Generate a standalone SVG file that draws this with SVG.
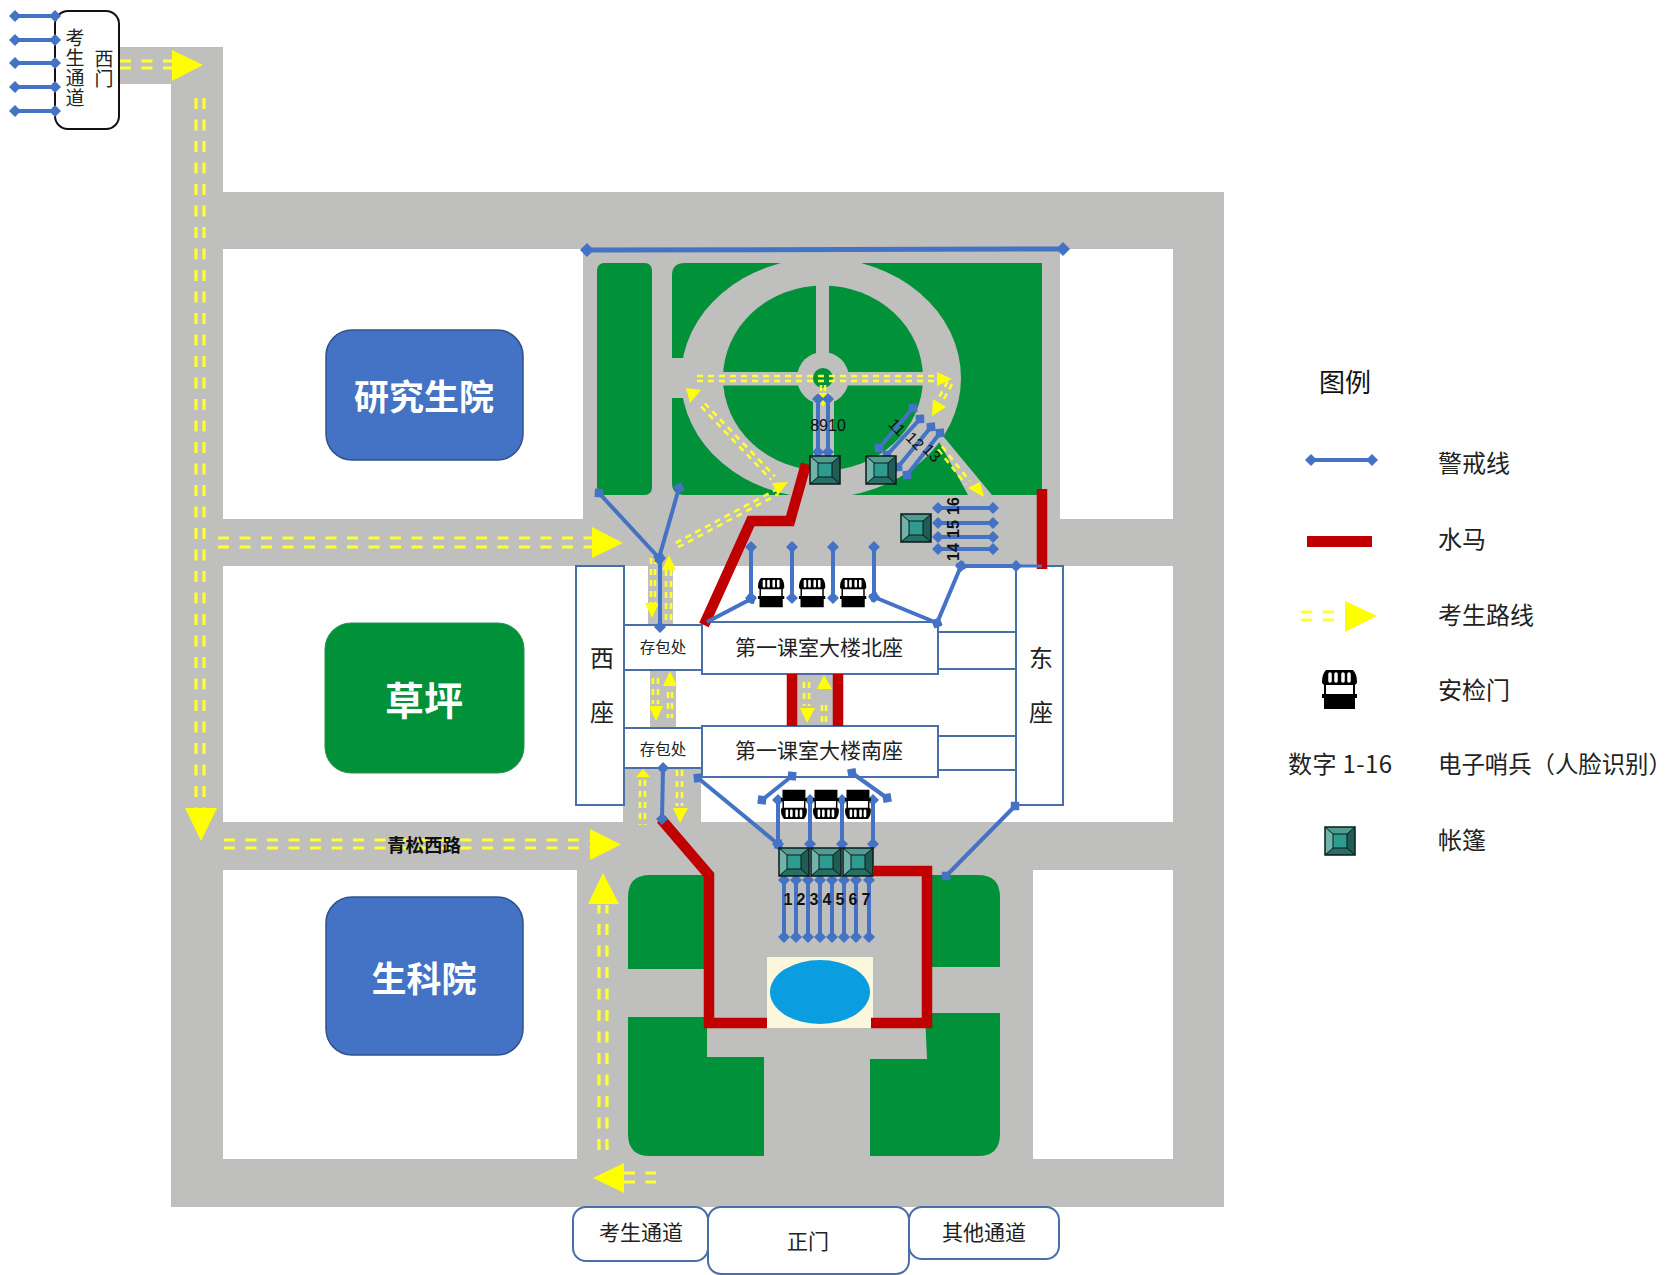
<svg xmlns="http://www.w3.org/2000/svg" xmlns:xlink="http://www.w3.org/1999/xlink" width="1674" height="1275" viewBox="0 0 1674 1275">
<style>
text{font-family:"Noto Sans CJK SC","Liberation Sans",sans-serif;fill:#222;dominant-baseline:central}
.c{text-anchor:middle}
.m{font-size:21px}
.leg{font-size:24px}
.big{font-size:35px;font-weight:700;fill:#fff;text-anchor:middle}
.num{font-family:"Liberation Sans",sans-serif;font-size:16px;font-weight:700;fill:#111;text-anchor:middle}
.vert{writing-mode:vertical-rl;font-size:19px;letter-spacing:1px;text-anchor:middle}
.road{fill:#bfbfbd}
.w{fill:#fff}
.gr{fill:#009139}
.bl{fill:none;stroke:#4472c4;stroke-width:4;marker-start:url(#dia);marker-end:url(#dia)}
.rd{fill:none;stroke:#c00000;stroke-width:10.5;stroke-linejoin:miter}
.d{fill:none;stroke:#ffff33;stroke-width:3.2;stroke-dasharray:11 10.5}
.e{fill:none;stroke:#ffff33;stroke-width:2.6;stroke-dasharray:6 5}
.t{fill:#ffff00}
.b{fill:#fff;stroke:#4a6fa8;stroke-width:2}
</style>
<defs>
<marker id="dia" markerUnits="userSpaceOnUse" markerWidth="12" markerHeight="12" refX="6" refY="6" orient="auto"><path d="M0 6L6 0L12 6L6 12Z" fill="#4472c4"/></marker>
<marker id="diaL" markerUnits="userSpaceOnUse" markerWidth="14" markerHeight="14" refX="7" refY="7" orient="auto"><path d="M0 7L7 0L14 7L7 14Z" fill="#4472c4"/></marker>
<g id="tent">
<rect x="0" y="0" width="30" height="28" fill="#2a7a70"/>
<path d="M0 0H30L22 7H8Z" fill="#4f9c93"/>
<path d="M0 0L8 7V21L0 28Z" fill="#71b3ab"/>
<path d="M30 0L22 7V21L30 28Z" fill="#1f5d56"/>
<path d="M0 28L8 21H22L30 28Z" fill="#276e65"/>
<rect x="8" y="7" width="14" height="14" fill="#2f9a8e"/>
<rect x="0" y="0" width="30" height="28" fill="none" stroke="#0b1a18" stroke-width="1.5"/>
<path d="M0 0L8 7H22L30 0M0 28L8 21H22L30 28M8 7V21M22 7V21" fill="none" stroke="#0b1a18" stroke-width="1"/>
</g>
<g id="gate">
<path d="M2 25H33V39H2Z" fill="#000"/>
<rect x="0" y="24" width="35" height="4" fill="#000"/>
<rect x="3" y="12" width="29" height="13" fill="#fff" stroke="#000" stroke-width="2"/>
<path d="M4 0H31Q35 4 35 12Q35 15 31 15H4Q0 15 0 12Q0 4 4 0Z" fill="#000"/>
<path d="M8 4V11M14 4V11M21 4V11M27 4V11" stroke="#fff" stroke-width="3.500" stroke-linecap="round"/>
</g>
</defs>
<rect width="1674" height="1275" fill="#fff"/>
<g id="roads">
<rect class="road" x="171" y="192" width="1053" height="1015"/>
<rect class="road" x="171" y="47" width="52" height="145"/>
<rect class="road" x="120" y="47" width="103" height="37"/>
<rect class="w" x="223" y="249" width="360" height="270"/>
<rect class="w" x="1060" y="249" width="113" height="270"/>
<rect class="w" x="223" y="566" width="950" height="256"/>
<rect class="w" x="223" y="870" width="354" height="289"/>
<rect class="w" x="1033" y="870" width="140" height="289"/>
<rect class="road" x="623" y="768" width="78" height="54"/>
<rect class="road" x="648" y="566" width="25" height="59"/>
<rect class="road" x="650" y="670" width="26" height="57"/>
<rect class="road" x="797" y="674" width="37" height="52"/>
</g>
<g id="park">
<rect class="gr" x="597" y="263" width="55" height="232" rx="7"/>
<path class="gr" d="M685 263H1042V495H685Q672 495 672 483V275Q672 263 685 263Z"/>
<ellipse class="road" cx="821" cy="378" rx="140" ry="120"/>
<ellipse class="gr" cx="823" cy="378" rx="100" ry="92.500"/>
<rect class="road" x="816" y="280" width="13" height="80"/>
<rect class="road" x="722" y="372" width="202" height="13.500"/>
<rect class="road" x="813" y="378" width="21" height="90"/>
<rect class="road" x="672" y="358" width="20" height="40"/>
<path class="road" d="M938 440L943 436L992 495H968Z"/>
<circle class="road" cx="823" cy="378" r="26"/>
<circle class="gr" cx="823" cy="378" r="10"/>
</g>
<g id="garden">
<path class="gr" d="M650 875H709V969H628V897Q628 875 650 875Z"/>
<path class="gr" d="M927 875H978Q1000 875 1000 897V967H927Z"/>
<path class="gr" d="M628 1017H707V1057H764V1156H650Q628 1156 628 1134Z"/>
<path class="gr" d="M925 1013H1000V1134Q1000 1156 978 1156H870V1059H927Z"/>
<rect x="767" y="957" width="106" height="71" fill="#fbf7dc"/>
<ellipse cx="820" cy="992" rx="50" ry="32" fill="#0a9de0"/>
</g>
<g id="west-seat"><rect class="b" x="576" y="566" width="48" height="239"/><text class="c" x="602" y="656" style="font-size:24px">西</text><text class="c" x="602" y="710" style="font-size:24px">座</text></g>
<g id="east-seat"><rect class="b" x="1016" y="566" width="47" height="239"/><text class="c" x="1041" y="656" style="font-size:24px">东</text><text class="c" x="1041" y="710" style="font-size:24px">座</text></g>
<g id="corridor-north"><rect class="b" x="938" y="632" width="78" height="37"/></g>
<g id="corridor-south"><rect class="b" x="938" y="736" width="78" height="34"/></g>
<g id="storage-north"><rect class="b" x="624" y="625" width="78" height="45"/><text class="c" x="663" y="645.500" style="font-size:15.500px">存包处</text></g>
<g id="storage-south"><rect class="b" x="624" y="728" width="78" height="40"/><text class="c" x="663" y="747.500" style="font-size:15.500px">存包处</text></g>
<g id="north-block"><rect class="b" x="702" y="622" width="236" height="52"/><text class="c m" x="819" y="646">第一课室大楼北座</text></g>
<g id="south-block"><rect class="b" x="702" y="726" width="236" height="51"/><text class="c m" x="819" y="749">第一课室大楼南座</text></g>
<g id="graduate"><rect x="326" y="330" width="197" height="130" rx="26" fill="#4472c4" stroke="#2f528f" stroke-width="1.500"/><text class="big" x="424" y="394">研究生院</text></g>
<g id="lawn"><rect x="325" y="623" width="199" height="150" rx="26" fill="#009139" stroke="#2f8f55" stroke-width="1"/><text class="big" x="424" y="698" style="font-size:39px">草坪</text></g>
<g id="biosci"><rect x="326" y="897" width="197" height="158" rx="26" fill="#4472c4" stroke="#2f528f" stroke-width="1.500"/><text class="big" x="424" y="976">生科院</text></g>
<g id="west-gate"><rect x="55" y="11" width="64" height="118" rx="13" fill="#fff" stroke="#111" stroke-width="2"/>
<text class="vert" x="75" y="68">考生通道</text>
<text class="vert" x="104" y="69">西门</text></g>
<g id="gate-exam"><rect class="b" x="573" y="1207" width="135" height="54" rx="13"/><text class="c m" x="641" y="1231">考生通道</text></g>
<g id="gate-main"><rect class="b" x="708" y="1207" width="201" height="67" rx="13"/><text class="c m" x="808" y="1240">正门</text></g>
<g id="gate-other"><rect class="b" x="909" y="1207" width="150" height="52" rx="13"/><text class="c m" x="984" y="1231">其他通道</text></g>
<g id="connectors">
<g id="barriers">
<path class="rd" d="M704 625L751 521H790L806 464"/>
<path class="rd" d="M1042 489V569"/>
<path class="rd" d="M792 674V726M838 674V726"/>
<path class="rd" d="M661 819L709 875V1023H767"/>
<path class="rd" d="M874 871H927V1023H871"/>
</g>
<g id="routes">
<path class="d" d="M120 61H172M120 68H172"/>
<path class="d" d="M196 98V808M204 98V808"/>
<path class="d" d="M218 538H592M218 547H592"/>
<path class="d" d="M224 840H590M224 848H590"/>
<path class="d" d="M599 1150V905M607 1150V905"/>
<path class="d" d="M624 1173H656M624 1182H656"/>
<path class="e" d="M697 376H937M697 381H937"/>
<path class="e" d="M952 384L944 399M947.500 381.600L939.500 396.600"/>
<path class="e" d="M821 385V393M825 385V393"/>
<path class="e" d="M704.800 403.300L774.800 476.300M701.200 406.700L771.200 479.700"/>
<path class="e" d="M678.200 547.200L778.200 494.200M675.800 542.800L775.800 489.800"/>
<path class="e" d="M942 446.400L970 481.400M938 449.600L966 484.600"/>
<path class="e" d="M651 558V603M655 558V603M666 570V622M671 570V622"/>
<path class="e" d="M653 678V704M658 678V704M668 692V718M672 692V718"/>
<path class="e" d="M640 780V825M645 780V825M677 770V806M682 770V806"/>
<path class="e" d="M804 682V706M809 682V706M822 705V722M826 705V722"/>
<path class="t" d="M172 50L203 65L172 81Z"/>
<path class="t" d="M185 808H217L201 841Z"/>
<path class="t" d="M592 527L623 543L592 558Z"/>
<path class="t" d="M590 829L621 844.500L590 860Z"/>
<path class="t" d="M603 873L619 904H588Z"/>
<path class="t" d="M593 1178L624 1163V1193Z"/>
<path class="t" d="M937 372L952 379L937 386Z"/>
<path class="t" d="M933 399L946 407L932 416Z"/>
<path class="t" d="M816 393H831L823 407Z"/>
<path class="t" d="M686 388L701 390L690 403Z"/>
<path class="t" d="M788 482L772 483L778 495Z"/>
<path class="t" d="M968 488L980 482L984 497Z"/>
<path class="t" d="M645 603H659L652 618Z"/>
<path class="t" d="M669 555L676 570H662Z"/>
<path class="t" d="M670 671L677 686H663Z"/>
<path class="t" d="M649 706H663L656 721Z"/>
<path class="t" d="M643 769L650 777H636Z"/>
<path class="t" d="M673 808H688L680 823Z"/>
<path class="t" d="M824 675L832 689H817Z"/>
<path class="t" d="M800 708H815L807 723Z"/>
</g>
<g id="cordons">
<path class="bl" d="M15 16H55"/><path class="bl" d="M15 40H55"/><path class="bl" d="M15 63H55"/><path class="bl" d="M15 87H55"/><path class="bl" d="M15 111H55"/>
<path class="bl" d="M587 250L1063 249" style="stroke-width:5;marker-start:url(#diaL);marker-end:url(#diaL)"/>
<path class="bl" d="M599 493L659 558"/>
<path class="bl" d="M679 488L659 558"/>
<path class="bl" d="M660 558V627"/>
<path class="bl" d="M751 547V598"/><path class="bl" d="M792 547V598"/><path class="bl" d="M833 547V598"/><path class="bl" d="M874 547V597"/>
<path class="bl" d="M707 622L751 599" style="marker-start:none"/>
<path class="bl" d="M874 597L937 623"/>
<path class="bl" d="M937 623L961 566"/>
<path class="bl" d="M961 566H1016"/>
<path d="M1016 566H1042" fill="none" stroke="#4472c4" stroke-width="3"/>
<path class="bl" d="M938 508H993"/><path class="bl" d="M938 523H993"/><path class="bl" d="M938 537H993"/><path class="bl" d="M938 549H993"/>
<path class="bl" d="M698 778L778 844"/>
<path class="bl" d="M762 800L792 776"/>
<path class="bl" d="M852 773L887 798"/>
<path class="bl" d="M778 800V844"/><path class="bl" d="M810 800V844"/><path class="bl" d="M842 800V844"/><path class="bl" d="M873 800V844"/>
<path class="bl" d="M1015 806L946 876"/>
<path class="bl" d="M663 768L662 819"/>
<path class="bl" d="M784 880V937"/><path class="bl" d="M796 880V937"/><path class="bl" d="M808 880V937"/><path class="bl" d="M820 880V937"/><path class="bl" d="M832 880V937"/><path class="bl" d="M844 880V937"/><path class="bl" d="M856 880V937"/><path class="bl" d="M869 880V937"/>
<path class="bl" d="M818 399V452"/><path class="bl" d="M828 399V452"/>
<path class="bl" d="M913 408L879 448"/><path class="bl" d="M920 419L887 455"/><path class="bl" d="M931 427L898 467"/><path class="bl" d="M940 433L907 475"/>
</g>
</g>
<g id="tents">
<use xlink:href="#tent" href="#tent" x="810" y="456"/>
<use xlink:href="#tent" href="#tent" x="866" y="456"/>
<use xlink:href="#tent" href="#tent" x="901" y="514"/>
<use xlink:href="#tent" href="#tent" x="779" y="848"/>
<use xlink:href="#tent" href="#tent" x="811" y="848"/>
<use xlink:href="#tent" href="#tent" x="843" y="848"/>
</g>
<g id="gates">
<use xlink:href="#gate" href="#gate" transform="translate(758 578) scale(.75)"/>
<use xlink:href="#gate" href="#gate" transform="translate(799 578) scale(.75)"/>
<use xlink:href="#gate" href="#gate" transform="translate(840 578) scale(.75)"/>
<use xlink:href="#gate" href="#gate" transform="translate(781 819) scale(.74 -.75)"/>
<use xlink:href="#gate" href="#gate" transform="translate(813 819) scale(.74 -.75)"/>
<use xlink:href="#gate" href="#gate" transform="translate(845 819) scale(.74 -.75)"/>
</g>
<g id="labels">
<text x="424" y="844" style="font-size:18.500px;font-weight:700;fill:#111;text-anchor:middle">青松西路</text>
<text class="num" x="788" y="899">1</text><text class="num" x="801" y="899">2</text><text class="num" x="814" y="899">3</text><text class="num" x="827" y="899">4</text><text class="num" x="840" y="899">5</text><text class="num" x="853" y="899">6</text><text class="num" x="866" y="899">7</text>
<text class="num" x="828" y="425" style="font-weight:400">8910</text>
<text class="num" transform="translate(897 427) rotate(45)" style="font-weight:400">11</text>
<text class="num" transform="translate(915 441) rotate(45)" style="font-weight:400">12</text>
<text class="num" transform="translate(932 453) rotate(45)" style="font-weight:400">13</text>
<text class="num" transform="translate(953 506) rotate(-90)">16</text>
<text class="num" transform="translate(953 529) rotate(-90)">15</text>
<text class="num" transform="translate(953 552) rotate(-90)">14</text>
</g>
<g id="legend">
<text class="c" x="1345" y="380" style="font-size:26px;fill:#111">图例</text>
<path class="bl" d="M1311 460H1372"/><text class="leg" x="1438" y="461">警戒线</text>
<rect x="1307" y="536" width="65" height="11" fill="#c00000"/><text class="leg" x="1438" y="537">水马</text>
<path d="M1301 612H1312M1323 612H1334M1301 620H1312M1323 620H1334" fill="none" stroke="#ffff33" stroke-width="3.200"/>
<path class="t" d="M1345 601L1377 616L1345 632Z"/><text class="leg" x="1438" y="613">考生路线</text>
<use xlink:href="#gate" href="#gate" x="1322" y="670"/><text class="leg" x="1438" y="688">安检门</text>
<text x="1288" y="762.500" style="font-size:24px;letter-spacing:.4px">数字 1-16</text><text x="1438" y="762.500" style="font-size:23.400px">电子哨兵（人脸识别）</text>
<use xlink:href="#tent" href="#tent" x="1325" y="827"/><text class="leg" x="1438" y="838.500">帐篷</text>
</g>
</svg>
